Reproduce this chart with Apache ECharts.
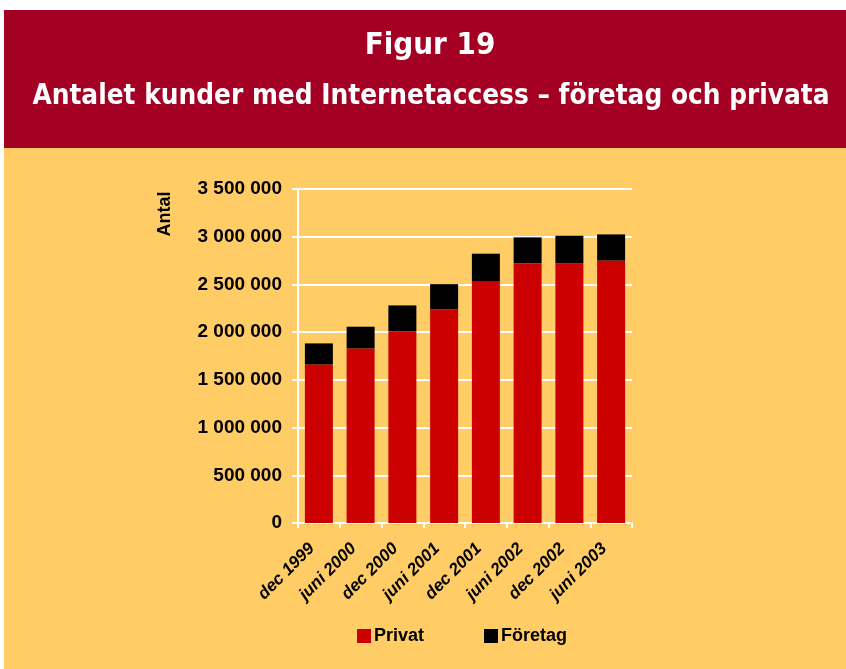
<!DOCTYPE html>
<html>
<head>
<meta charset="utf-8">
<script src="https://cdn.jsdelivr.net/npm/echarts@6/dist/echarts.min.js"></script>
<style>
  html, body { margin: 0; padding: 0; background: #fff; }
  #chart { width: 846px; height: 669px; }
</style>
</head>
<body>
<div id="chart"></div>
<script>
// data
const categories = ['dec 1999', 'juni 2000', 'dec 2000', 'juni 2001', 'dec 2001', 'juni 2002', 'dec 2002', 'juni 2003']
const privat = [1661000, 1829000, 2010000, 2238000, 2535000, 2723000, 2720000, 2750000]
const foretag = [221000, 228000, 270000, 265000, 287000, 270000, 290000, 274000]
const yTicks = [0, 500000, 1000000, 1500000, 2000000, 2500000, 3000000, 3500000]

const fmt = (v) => String(v).replace(/\B(?=(\d{3})+(?!\d))/g, ' ')
const labelFont = '"Liberation Sans", Arial, sans-serif'
const titleFont = '"DejaVu Sans Condensed", "Open Sans", sans-serif'

const chart = echarts.init(document.getElementById('chart'))
const option = {
    backgroundColor: '#ffffff',
    animation: false,
    graphic: [
        // red banner
        { type: 'rect', left: 4, top: 10, shape: { width: 842, height: 138 }, style: { fill: '#A30024' }, z: -10 },
        // yellow panel
        { type: 'rect', left: 4, top: 148, shape: { width: 842, height: 521 }, style: { fill: '#FFCC66' }, z: -10 },
        {
            type: 'text', x: 430, y: 46,
            style: { text: 'Figur 19', fill: '#fff', font: 'bold 31px ' + titleFont, align: 'center', verticalAlign: 'middle' }
        },
        {
            type: 'text', x: 431, y: 97,
            style: {
                text: 'Antalet kunder med Internetaccess – företag och privata',
                fill: '#fff', font: 'bold 27.7px ' + titleFont, align: 'center', verticalAlign: 'middle'
            }
        },
        {
            type: 'text', x: 165, y: 214, rotation: Math.PI / 2,
            style: { text: 'Antal', fill: '#000', font: 'bold 18px ' + labelFont, align: 'center', verticalAlign: 'middle' }
        }
    ],
    grid: { left: 298, top: 189, width: 334, height: 334 },
    legend: {
        top: 622,
        left: 352,
        itemWidth: 14,
        itemHeight: 14,
        itemGap: 60,
        icon: 'rect',
        selectedMode: false,
        textStyle: { color: '#000', fontSize: 18, fontWeight: 'bold', fontFamily: labelFont, padding: [0, 0, 0, -2] },
        data: ['Privat', 'Företag']
    },
    xAxis: {
        type: 'category',
        data: categories,
        axisLine: { lineStyle: { color: '#fff', width: 2 } },
        axisTick: { show: true, length: 5, lineStyle: { color: '#fff', width: 2 } },
        axisLabel: {
            rotate: 45,
            margin: 16,
            padding: [0, 10, 0, 0],
            interval: 0,
            color: '#000',
            fontSize: 17,
            fontWeight: 'bold',
            fontStyle: 'italic',
            fontFamily: labelFont
        }
    },
    yAxis: {
        type: 'value',
        min: yTicks[0],
        max: yTicks[yTicks.length - 1],
        interval: 500000,
        axisLine: { show: true, lineStyle: { color: '#fff', width: 2 } },
        axisTick: { show: true, length: 6, lineStyle: { color: '#fff', width: 2 } },
        axisLabel: {
            margin: 16,
            color: '#000',
            fontSize: 19,
            fontWeight: 'bold',
            fontFamily: labelFont,
            formatter: fmt
        },
        splitLine: { lineStyle: { color: '#fff', width: 2 } }
    },
    series: [
        {
            name: 'Privat', type: 'bar', stack: 'total', data: privat,
            barWidth: 28,
            itemStyle: { color: '#CC0000' }
        },
        {
            name: 'Företag', type: 'bar', stack: 'total', data: foretag,
            barWidth: 28,
            itemStyle: { color: '#000000' }
        }
    ]
}
chart.setOption(option)
</script>
</body>
</html>
